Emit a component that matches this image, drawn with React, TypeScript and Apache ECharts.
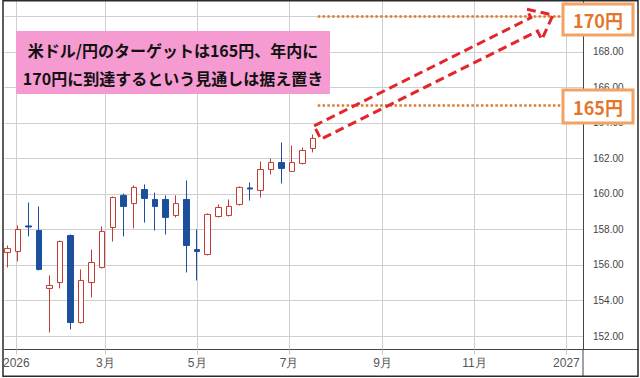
import { useEffect, useRef } from 'react';
import * as echarts from 'echarts';

// Weekly candles (week-ending dates)
const weekDates = [
  '2025-12-26', '2026-01-02', '2026-01-09', '2026-01-16', '2026-01-23', '2026-01-30',
  '2026-02-06', '2026-02-13', '2026-02-20', '2026-02-27', '2026-03-06', '2026-03-13',
  '2026-03-20', '2026-03-27', '2026-04-03', '2026-04-10', '2026-04-17', '2026-04-24',
  '2026-05-01', '2026-05-08', '2026-05-15', '2026-05-22', '2026-05-29', '2026-06-05',
  '2026-06-12', '2026-06-19', '2026-06-26', '2026-07-03', '2026-07-10', '2026-07-17',
];
const openValues = [
  156.70, 156.76, 158.20, 157.94, 154.68, 155.01, 157.66, 152.76, 155.01, 155.86,
  158.11, 159.92, 159.46, 160.25, 159.69, 159.69, 158.79, 159.69, 156.87, 156.59,
  158.73, 158.79, 159.41, 160.34, 160.20, 161.38, 161.77, 161.27, 161.72, 162.56,
];
const closeValues = [
  156.93, 158.00, 158.14, 155.75, 154.85, 157.32, 152.76, 155.13, 156.14, 157.89,
  159.80, 159.30, 160.37, 159.75, 159.30, 158.68, 159.46, 157.10, 156.76, 158.85,
  159.24, 159.30, 160.37, 160.28, 161.38, 161.77, 161.44, 161.77, 162.45, 163.13,
];
const lowValues = [
  155.86, 156.20, 157.61, 155.69, 152.20, 154.68, 152.37, 152.70, 154.17, 155.80,
  157.32, 157.61, 158.06, 158.39, 157.94, 157.72, 158.68, 155.58, 155.13, 156.54,
  158.68, 158.73, 159.35, 159.63, 159.80, 161.10, 160.59, 161.27, 161.66, 162.34,
];
const highValues = [
  157.10, 158.23, 159.52, 159.30, 155.41, 157.38, 157.72, 155.75, 156.87, 158.17,
  159.86, 160.03, 160.48, 160.54, 160.08, 159.92, 159.92, 160.76, 158.00, 158.90,
  159.41, 159.69, 160.42, 160.65, 161.83, 162.00, 162.90, 162.73, 162.62, 163.35,
];

const yTickValues = [152, 154, 156, 158, 160, 162, 164, 166, 168, 170];
const yLabelValues = [152, 154, 156, 158, 160, 162, 164, 166, 168];
const xTickDates = ['2026-01-01', '2026-03-01', '2026-05-01', '2026-07-01', '2026-09-01', '2026-11-01', '2027-01-01'];
const xTickLabels = ['2026', '3月', '5月', '7月', '9月', '11月', '2027'];

const targetLevels = [165, 170];
const targetLabels = ['165円', '170円'];
const targetLineFrom = '2026-07-20';
const targetLineTo = '2026-12-30';
const calloutLines = ['米ドル/円のターゲットは165円、年内に', '170円に到達するという見通しは据え置き'];

const toTime = (s: string, h = 0, mi = 0) => {
  const [y, m, d] = s.split('-').map(Number);
  return new Date(y, m - 1, d, h, mi).getTime();
};

const RED = '#c23b32';
const BLUE = '#1c4f9c';
const ORANGE_LINE = '#e07b2e';
const ORANGE_TEXT = '#e4762a';
const ORANGE_BORDER = '#f2a262';
const JP = '"Noto Sans CJK JP", sans-serif';

// arrow geometry (annotation, pixel space)
function arrowPoints(): number[][] {
  const B = [317.5, 132.5];
  const T = [553, 15];
  const dx = T[0] - B[0];
  const dy = T[1] - B[1];
  const L = Math.hypot(dx, dy);
  const u = [dx / L, dy / L];
  const n = [-u[1], u[0]];
  const hw = 7.5;
  const headBase = L - 21;
  const wing = 17;
  const p = (a: number, b: number) => [B[0] + a * u[0] + b * n[0], B[1] + a * u[1] + b * n[1]];
  return [p(0, -hw), p(headBase, -hw), p(headBase, -wing), p(L, 0), p(headBase, wing), p(headBase, hw), p(0, hw)];
}

export default function App() {
  const ref = useRef<HTMLDivElement>(null);

  useEffect(() => {
    const chart = echarts.init(ref.current!, null, { renderer: 'svg' });
    const xTicks = xTickDates.map((d) => toTime(d));
    const data = weekDates.map((d, i) => [toTime(d), openValues[i], closeValues[i], lowValues[i], highValues[i]]);

    const option: any = {
      animation: false,
      backgroundColor: '#ffffff',
      grid: { left: 4, right: 57, top: 1, bottom: 28.5, containLabel: false },
      xAxis: {
        type: 'value',
        min: toTime('2025-12-24', 4, 48),
        max: toTime('2027-01-12'),
        axisLine: { show: true, onZero: false, lineStyle: { color: '#444', width: 1 } },
        axisTick: { show: true, customValues: xTicks, length: 5, lineStyle: { color: '#c8c8c8' } },
        splitLine: { show: true, lineStyle: { color: '#cfcfcf', width: 1 } },
        axisLabel: {
          customValues: xTicks,
          margin: 7,
          color: '#555',
          fontSize: 12,
          fontFamily: '"Liberation Sans", Arial, sans-serif',
          formatter: (v: number) => {
            const idx = xTicks.indexOf(v);
            return idx >= 0 ? xTickLabels[idx] : '';
          },
        },
      },
      yAxis: {
        type: 'value',
        position: 'right',
        min: 151.24,
        max: 170.87,
        axisLine: { show: true, onZero: false, lineStyle: { color: '#444', width: 1 } },
        axisTick: { show: false, customValues: yTickValues },
        splitLine: { show: true, lineStyle: { color: '#cfcfcf', width: 1 } },
        axisLabel: {
          customValues: yLabelValues,
          margin: 10,
          color: '#444',
          fontSize: 10,
          fontFamily: '"Liberation Sans", Arial, sans-serif',
          formatter: (v: number) => v.toFixed(2),
        },
      },
      series: [
        {
          type: 'candlestick',
          data,
          barWidth: 6,
          itemStyle: {
            color: '#ffffff',
            color0: BLUE,
            borderColor: RED,
            borderColor0: BLUE,
            borderWidth: 1,
          },
          markLine: {
            silent: true,
            symbol: ['none', 'none'],
            label: { show: false },
            lineStyle: { color: ORANGE_LINE, width: 2.5, type: [2.5, 2.3] },
            data: targetLevels.map((lv) => [
              { coord: [toTime(targetLineFrom), lv] },
              { coord: [toTime(targetLineTo), lv] },
            ]),
          },
        },
      ],
      graphic: [
        { type: 'line', z: 100, shape: { x1: 583, y1: 349, x2: 583, y2: 377 }, style: { stroke: '#444', lineWidth: 1 } },
        { type: 'line', z: 100, shape: { x1: 583, y1: 349.5, x2: 639, y2: 349.5 }, style: { stroke: '#444', lineWidth: 1 } },
        { type: 'rect', z: 100, shape: { x: 3, y: 0.75, width: 635, height: 375.5 }, style: { fill: 'none', stroke: '#2a2a2a', lineWidth: 1.5 } },
        { type: 'rect', z: 100, shape: { x: 16, y: 31, width: 314, height: 63 }, style: { fill: '#f69bd1' } },
        ...calloutLines.map((t, i) => ({
          type: 'text',
          z: 101,
          style: { text: t, x: 173, y: 50 + i * 28, align: 'center', verticalAlign: 'middle', fill: '#111', font: `bold 16px ${JP}` },
        })),
        { type: 'polygon', z: 100, shape: { points: arrowPoints() }, style: { fill: 'none', stroke: '#e3262b', lineWidth: 3, lineDash: [9, 5] } },
        ...targetLabels.map((t, i) => {
          const y = i === 0 ? 90 : 4;
          const h = i === 0 ? 33 : 31;
          return {
            type: 'group',
            z: 102,
            children: [
              { type: 'rect', z: 102, shape: { x: 563, y, width: 70, height: h }, style: { fill: '#ffffff', stroke: ORANGE_BORDER, lineWidth: 3 } },
              { type: 'text', z: 103, style: { text: t, x: 598, y: y + h / 2, align: 'center', verticalAlign: 'middle', fill: ORANGE_TEXT, font: `bold 18px ${JP}` } },
            ],
          };
        }),
      ],
    };
    chart.setOption(option);
    return () => chart.dispose();
  }, []);

  return (
    <div
      ref={ref}
      style={{ position: 'absolute', left: 0, top: 0, width: 640, height: 378, background: '#ffffff' }}
    />
  );
}
